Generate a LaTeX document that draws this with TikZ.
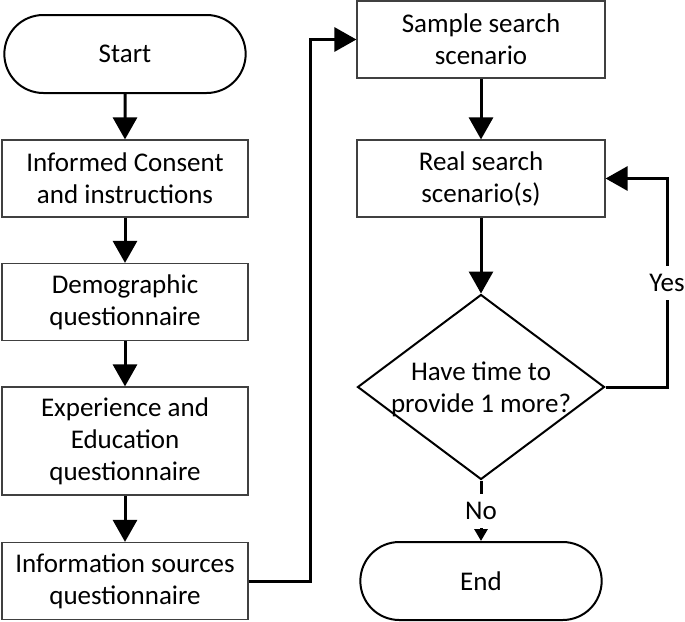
\documentclass[tikz,border=0pt]{standalone}
\usepackage{fontspec}
\setmainfont{Carlito}
\usetikzlibrary{arrows.meta,shapes.geometric,shapes.misc}

\begin{document}
\begin{tikzpicture}[
  x=1pt, y=-1pt,
  every node/.style={font=\fontsize{27}{32}\selectfont, align=center},
  box/.style={rectangle, draw=black!75, line width=1.2pt, minimum width=246pt, minimum height=77pt, inner sep=2pt},
  terminal/.style={rounded rectangle, draw, line width=2pt, minimum width=248pt, minimum height=78pt},
  decision/.style={diamond, draw, line width=2pt, minimum width=247pt, minimum height=185pt, inner sep=0pt},
  flow/.style={line width=3pt, -{Triangle[length=22pt,width=24pt]}},
  small flow/.style={line width=3pt, -{Triangle[length=12pt,width=13pt]}},
  branch label/.style={fill=white, inner xsep=2pt, inner ysep=8pt}
]
\useasboundingbox (0,0) rectangle (685,621);

% Nodes
\node[terminal] (start) at (125,54) {Start};
\node[box] (consent) at (125,178.5) {Informed Consent\\and instructions};
\node[box] (demo) at (125,302) {Demographic\\questionnaire};
\node[box, minimum height=108pt] (exper) at (125,441) {Experience and\\Education\\questionnaire};
\node[box] (sources) at (125,581) {Information sources\\questionnaire};

\node[box, minimum width=248pt] (sample) at (481,39.5) {Sample search\\scenario};
\node[box, minimum width=248pt] (real) at (481,178.5) {Real search\\scenario(s)};
\node[decision] (more) at (481,387) {\makebox[0pt]{\smash{\raisebox{-9pt}{\begin{tabular}{@{}c@{}}Have time to\\provide 1 more?\end{tabular}}}}};
\node[terminal] (end) at (481,581) {End};

\coordinate (upturn) at (310,39.5);
\coordinate (yesturn) at (667,178.5);

% Edges
\draw[flow] (start) -- (consent);
\draw[flow] (consent) -- (demo);
\draw[flow] (demo) -- (exper);
\draw[flow] (exper) -- (sources);
\draw[flow] (sources.east) -| (upturn) -- (sample.west);
\draw[flow] (sample) -- (real);
\draw[flow] (real) -- (more.north);

% Decision branches
\draw[small flow] (more.south) -- node[branch label] {No} (end.north);
\draw[flow] (more.east) -| node[pos=0.75, branch label] {Yes} (yesturn) -- (real.east);

\end{tikzpicture}
\end{document}
